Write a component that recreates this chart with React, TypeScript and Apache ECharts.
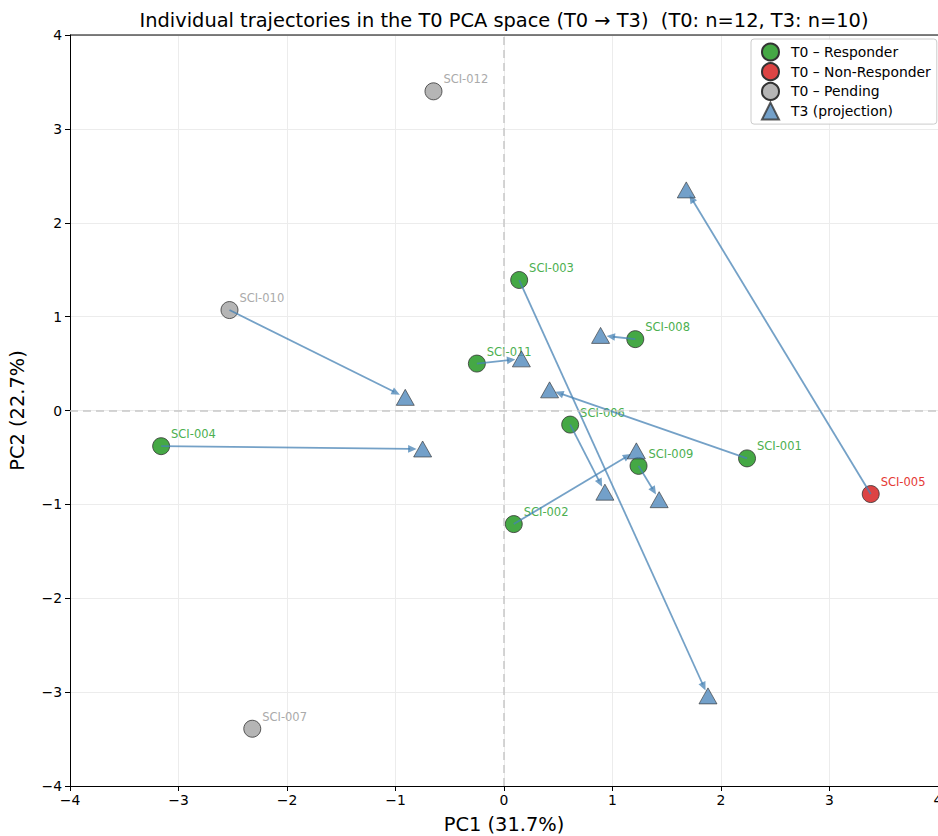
import React, { useEffect, useRef } from "react";
import * as echarts from "echarts";

const ids = ["SCI-001", "SCI-002", "SCI-003", "SCI-004", "SCI-005", "SCI-006", "SCI-007", "SCI-008", "SCI-009", "SCI-010", "SCI-011", "SCI-012"];
const status = ["R", "R", "R", "R", "N", "R", "P", "R", "R", "P", "R", "P"];
const t0x = [2.24, 0.09, 0.14, -3.16, 3.38, 0.61, -2.32, 1.21, 1.24, -2.53, -0.25, -0.65];
const t0y = [-0.51, -1.21, 1.39, -0.38, -0.89, -0.15, -3.39, 0.76, -0.59, 1.07, 0.50, 3.40];
const t3x = [0.42, 1.22, 1.88, -0.75, 1.68, 0.93, null, 0.89, 1.43, -0.91, 0.16, null];
const t3y = [0.22, -0.43, -3.04, -0.41, 2.35, -0.87, null, 0.80, -0.95, 0.14, 0.55, null];

const groups = [
  { key: "R", name: "T0 – Responder", fill: "#45a845", label: "#4caf50" },
  { key: "N", name: "T0 – Non-Responder", fill: "#dc4444", label: "#e53935" },
  { key: "P", name: "T0 – Pending", fill: "#b5b5b5", label: "#aaaaaa" },
];
const t3Name = "T3 (projection)";
const FONT = "DejaVu Sans";

export default function App() {
  const ref = useRef<HTMLDivElement>(null);
  useEffect(() => {
    const chart = echarts.init(ref.current!, null, { renderer: "svg" });

    const arrowData: number[][] = [];
    const t3Data: number[][] = [];
    ids.forEach((id, i) => {
      if (t3x[i] !== null && t3y[i] !== null) {
        arrowData.push([t0x[i], t0y[i], t3x[i] as number, t3y[i] as number]);
        t3Data.push([t3x[i] as number, t3y[i] as number]);
      }
    });

    const scatterSeries = groups.map((g) => ({
      type: "scatter",
      name: g.name,
      z: 2,
      symbol: "circle",
      symbolSize: 17,
      itemStyle: { color: g.fill, borderColor: "#333", borderWidth: 0.8, opacity: 1 },
      label: {
        show: true,
        position: "right",
        distance: 1,
        offset: [0, -12],
        formatter: (p: any) => p.data[2],
        color: g.label,
        fontFamily: FONT,
        fontSize: 11.5,
      },
      emphasis: { disabled: true },
      data: ids
        .map((id, i) => (status[i] === g.key ? [t0x[i], t0y[i], id] : null))
        .filter((d) => d !== null),
    }));

    const lineColor = "rgba(70,130,180,0.75)";
    const arrowSeries = {
      type: "custom",
      name: "arrows",
      z: 3,
      silent: true,
      data: arrowData,
      renderItem: (params: any, api: any) => {
        const p0 = api.coord([api.value(0), api.value(1)]);
        const p1 = api.coord([api.value(2), api.value(3)]);
        const dx = p1[0] - p0[0];
        const dy = p1[1] - p0[1];
        const len = Math.sqrt(dx * dx + dy * dy);
        const ux = dx / len;
        const uy = dy / len;
        const shrink = 6;
        const headLen = 8.5;
        const halfW = 3.8;
        const tip = [p1[0] - ux * shrink, p1[1] - uy * shrink];
        const base = [tip[0] - ux * headLen, tip[1] - uy * headLen];
        const px = -uy;
        const py = ux;
        return {
          type: "group",
          children: [
            {
              type: "line",
              shape: { x1: p0[0], y1: p0[1], x2: base[0] + ux * 2, y2: base[1] + uy * 2 },
              style: { stroke: lineColor, lineWidth: 1.8 },
            },
            {
              type: "polygon",
              shape: {
                points: [
                  tip,
                  [base[0] + px * halfW, base[1] + py * halfW],
                  [base[0] - px * halfW, base[1] - py * halfW],
                ],
              },
              style: { fill: lineColor },
            },
          ],
        };
      },
    };

    const t3Series = {
      type: "scatter",
      name: t3Name,
      z: 4,
      symbol: "triangle",
      symbolSize: [18, 16],
      itemStyle: { color: "#5088bb", borderColor: "#333", borderWidth: 0.8 },
      emphasis: { disabled: true },
      data: t3Data,
    };

    const zeroLines = {
      type: "line",
      name: "zero",
      z: 1,
      silent: true,
      data: [],
      markLine: {
        silent: true,
        symbol: "none",
        label: { show: false },
        lineStyle: { color: "#c8c8c8", type: [8, 5], width: 1.5 },
        data: [{ xAxis: 0 }, { yAxis: 0 }],
      },
    };

    const tickFmt = (v: number) => (v < 0 ? "−" + Math.abs(v) : String(v));

    chart.setOption({
      animation: false,
      backgroundColor: "#ffffff",
      title: {
        text: "Individual trajectories in the T0 PCA space (T0 → T3)  (T0: n=12, T3: n=10)",
        left: 499,
        top: 6,
        textAlign: "center",
        textStyle: { fontFamily: FONT, fontSize: 19.4, fontWeight: "normal", color: "#000" },
      },
      legend: {
        orient: "vertical",
        left: 751,
        top: 39,
        padding: [3.5, 6, 3.5, 10],
        itemGap: 0.7,
        itemWidth: 17,
        itemHeight: 17,
        backgroundColor: "rgba(255,255,255,0.85)",
        borderColor: "#cccccc",
        borderWidth: 1,
        borderRadius: 3,
        textStyle: { fontFamily: FONT, fontSize: 13.9, lineHeight: 17, color: "#000", padding: [0, 0, 0, 7] },
        data: [
          ...groups.map((g) => ({ name: g.name, icon: "circle" })),
          { name: t3Name, icon: "triangle" },
        ],
        selectedMode: false,
      },
      grid: { left: 70, top: 35, width: 868, height: 751, outerBoundsMode: "none", containLabel: false },
      xAxis: {
        type: "value",
        min: -4,
        max: 4,
        interval: 1,
        name: "PC1 (31.7%)",
        nameLocation: "middle",
        nameGap: 29,
        nameTextStyle: { fontFamily: FONT, fontSize: 19.4, color: "#000" },
        axisLine: { show: true, onZero: false, lineStyle: { color: "#000", width: 1 } },
        axisTick: { show: true, length: 5, lineStyle: { color: "#000" } },
        axisLabel: { fontFamily: FONT, fontSize: 13.9, color: "#000", margin: 7, formatter: tickFmt },
        splitLine: { show: true, lineStyle: { color: "#ececec", width: 1 } },
      },
      yAxis: {
        type: "value",
        min: -4,
        max: 4,
        interval: 1,
        name: "PC2 (22.7%)",
        nameLocation: "middle",
        nameGap: 43,
        nameTextStyle: { fontFamily: FONT, fontSize: 19.4, color: "#000" },
        axisLine: { show: true, onZero: false, lineStyle: { color: "#000", width: 1 } },
        axisTick: { show: true, length: 5, lineStyle: { color: "#000" } },
        axisLabel: { fontFamily: FONT, fontSize: 13.9, color: "#000", margin: 8, formatter: tickFmt },
        splitLine: { show: true, lineStyle: { color: "#ececec", width: 1 } },
      },
      graphic: [
        {
          type: "line",
          shape: { x1: 70, y1: 35, x2: 938, y2: 35 },
          style: { stroke: "#000", lineWidth: 1 },
          z: 10,
        },
      ],
      series: [zeroLines, ...scatterSeries, arrowSeries, t3Series],
    });

    return () => chart.dispose();
  }, []);

  return (
    <div
      ref={ref}
      style={{ position: "fixed", left: 0, top: 0, width: 938, height: 836 }}
    />
  );
}
